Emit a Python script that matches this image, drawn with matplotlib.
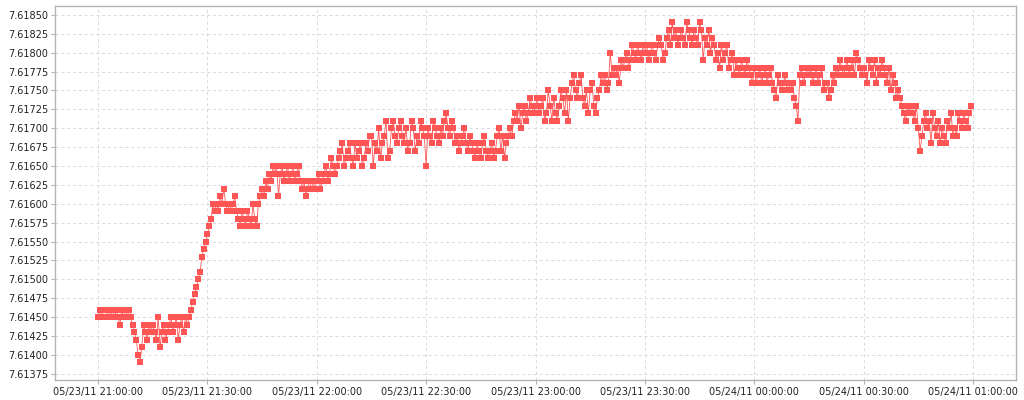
"""
Rate time series 05/23/11 21:00 - 05/24/11 01:00, square markers joined by a thin line.
Writes out.png.
"""

import matplotlib
matplotlib.use("Agg")
import matplotlib.pyplot as plt
import matplotlib.dates as mdates
import matplotlib.ticker as mticker
import numpy as np
import pandas as pd

BASE = 7.61
START = "2011-05-23 21:00:00"
STEP = "30s"

# offsets from 7.61000 in units of 1e-5, one row per 5 minutes (30 s samples)
offsets = [
    450, 460, 450, 460, 460, 450, 460, 450, 460, 450,   # 21:00
    460, 450, 440, 460, 450, 460, 450, 460, 450, 440,
    430, 420, 400, 390, 410, 440, 430, 420, 440, 430,   # 21:10
    440, 430, 420, 450, 410, 430, 440, 420, 430, 440,
    450, 430, 440, 450, 420, 440, 450, 430, 450, 440,   # 21:20
    450, 460, 470, 480, 490, 500, 510, 530, 540, 550,
    560, 570, 580, 600, 590, 600, 590, 610, 600, 620,   # 21:30
    600, 590, 600, 590, 600, 610, 590, 580, 570, 590,
    580, 570, 590, 580, 570, 600, 580, 570, 600, 610,   # 21:40
    620, 610, 630, 620, 640, 630, 650, 640, 650, 610,
    640, 650, 630, 640, 650, 630, 640, 650, 630, 640,   # 21:50
    650, 630, 620, 630, 610, 620, 630, 620, 630, 620,
    630, 640, 620, 630, 640, 650, 630, 640, 660, 650,   # 22:00
    640, 650, 660, 670, 680, 650, 660, 670, 680, 660,
    650, 680, 660, 670, 680, 650, 660, 680, 670, 690,   # 22:10
    690, 650, 680, 670, 700, 660, 680, 690, 710, 660,
    670, 700, 710, 690, 680, 700, 710, 690, 680, 700,   # 22:20
    670, 680, 710, 700, 670, 690, 680, 710, 700, 690,
    650, 700, 690, 680, 710, 700, 690, 680, 700, 690,   # 22:30
    710, 720, 700, 690, 710, 700, 680, 690, 670, 680,
    690, 700, 680, 670, 690, 680, 670, 660, 680, 670,   # 22:40
    660, 680, 690, 670, 660, 670, 680, 660, 670, 690,
    700, 670, 690, 660, 680, 690, 700, 690, 710, 720,   # 22:50
    710, 730, 700, 720, 730, 710, 720, 740, 730, 720,
    730, 740, 720, 730, 740, 710, 720, 750, 730, 710,   # 23:00
    740, 720, 710, 730, 750, 740, 720, 750, 710, 740,
    760, 770, 750, 740, 760, 770, 740, 730, 750, 720,   # 23:10
    750, 760, 730, 720, 740, 750, 770, 760, 770, 750,
    760, 800, 770, 780, 770, 780, 760, 790, 780, 790,   # 23:20
    800, 780, 790, 810, 800, 790, 810, 800, 790, 810,
    800, 810, 790, 800, 810, 800, 790, 810, 820, 810,   # 23:30
    790, 800, 820, 830, 810, 840, 820, 830, 810, 820,
    830, 820, 810, 840, 830, 820, 810, 830, 820, 810,   # 23:40
    840, 830, 790, 820, 810, 830, 800, 820, 810, 790,
    800, 780, 810, 790, 800, 810, 780, 790, 800, 770,   # 23:50
    790, 780, 770, 790, 780, 770, 790, 780, 770, 760,
    780, 760, 770, 780, 760, 770, 780, 760, 770, 780,   # 00:00
    760, 750, 740, 770, 760, 750, 760, 770, 750, 760,
    750, 760, 740, 730, 710, 770, 780, 760, 770, 780,   # 00:10
    770, 780, 760, 770, 780, 760, 770, 780, 750, 760,
    760, 740, 750, 770, 760, 780, 770, 790, 780, 770,   # 00:20
    780, 790, 770, 780, 790, 770, 800, 790, 780, 770,
    780, 770, 760, 790, 780, 770, 790, 760, 780, 770,   # 00:30
    790, 780, 770, 760, 780, 750, 770, 760, 740, 750,
    740, 730, 720, 710, 730, 720, 730, 720, 710, 730,   # 00:40
    700, 670, 690, 710, 720, 700, 710, 680, 720, 700,
    690, 710, 680, 700, 690, 680, 710, 700, 720, 690,   # 00:50
    700, 690, 720, 710, 700, 720, 710, 700, 720, 730,
]

times = pd.date_range(START, periods=len(offsets), freq=STEP)
values = BASE + np.array(offsets) * 1e-5

RED = "#ff5555"
GRID = "#d9d9d9"
FRAME = "#b4b4b4"

fig = plt.figure(figsize=(10.24, 4.0), dpi=100)
ax = fig.add_axes([55 / 1024, 1 - 380 / 400, (1016 - 55) / 1024, (380 - 6) / 400])

ax.plot(times, values, color=RED, linewidth=0.6, marker="s", markersize=5.0,
        markeredgewidth=0, zorder=3)

ax.set_xlim(pd.Timestamp("2011-05-23 20:48:12"), pd.Timestamp("2011-05-24 01:11:48"))
ax.set_ylim(7.613668, 7.618618)

ax.yaxis.set_major_locator(mticker.MultipleLocator(0.00025))
ax.yaxis.set_major_formatter(mticker.FormatStrFormatter("%.5f"))
ax.xaxis.set_major_locator(mdates.MinuteLocator(byminute=[0, 30]))
ax.xaxis.set_major_formatter(mdates.DateFormatter("%m/%d/%y %H:%M:%S"))

ax.grid(True, color=GRID, linestyle=(0, (3, 3)), linewidth=0.7, zorder=0)
for s in ax.spines.values():
    s.set_color(FRAME)
    s.set_linewidth(1.0)
ax.tick_params(axis="both", colors=FRAME, labelcolor="#222222", labelsize=7.0,
               length=3, width=0.8, pad=2)

fig.savefig("out.png", dpi=100)
plt.close(fig)
